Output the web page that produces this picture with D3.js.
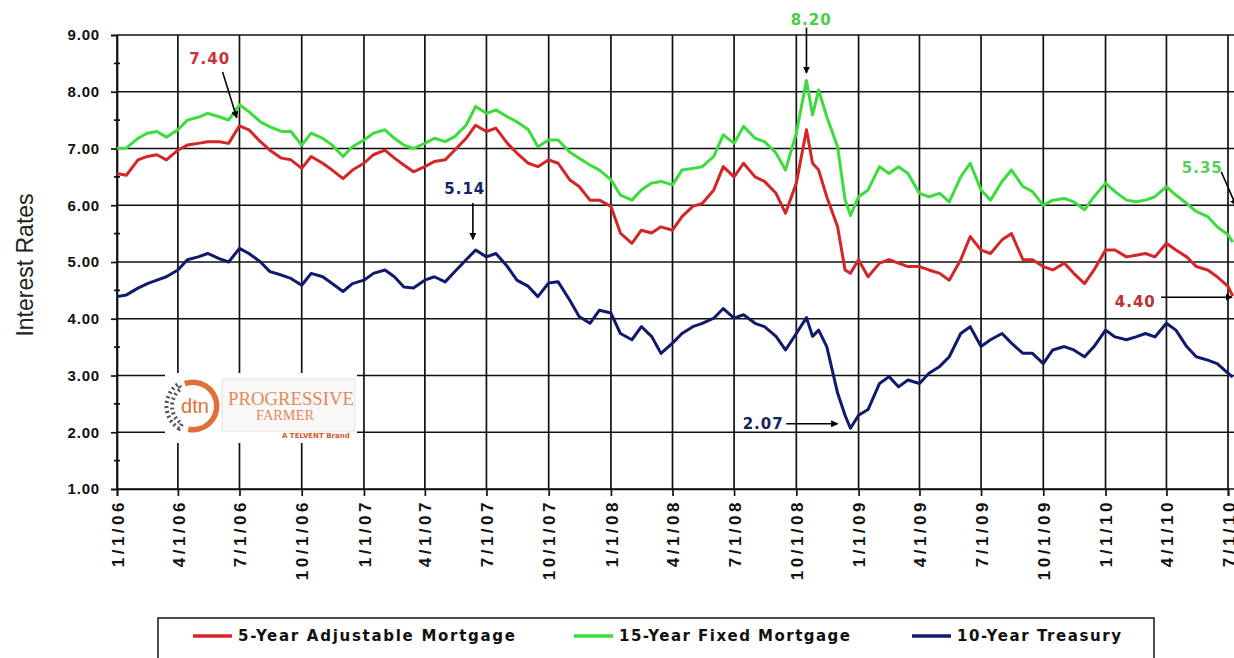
<!DOCTYPE html>
<html>
<head>
<meta charset="utf-8">
<script src="https://cdn.jsdelivr.net/npm/d3@7"></script>
<style>
body { margin: 0; background: #fff; }
svg { display: block; }
</style>
</head>
<body>
<div id="chart-area"></div>
<script>
// semi-monthly readings, extra points round the autumn 2008 spikes
var dates = [
  "2006-01-01","2006-01-15","2006-02-01","2006-02-15","2006-03-01","2006-03-15","2006-04-01","2006-04-15",
  "2006-05-01","2006-05-15","2006-06-01","2006-06-15","2006-07-01","2006-07-15","2006-08-01","2006-08-15",
  "2006-09-01","2006-09-15","2006-10-01","2006-10-15","2006-11-01","2006-11-15","2006-12-01","2006-12-15",
  "2007-01-01","2007-01-15","2007-02-01","2007-02-15","2007-03-01","2007-03-15","2007-04-01","2007-04-15",
  "2007-05-01","2007-05-15","2007-06-01","2007-06-15","2007-07-01","2007-07-15","2007-08-01","2007-08-15",
  "2007-09-01","2007-09-15","2007-10-01","2007-10-15","2007-11-01","2007-11-15","2007-12-01","2007-12-15",
  "2008-01-01","2008-01-15","2008-02-01","2008-02-15","2008-03-01","2008-03-15","2008-04-01","2008-04-15",
  "2008-05-01","2008-05-15","2008-06-01","2008-06-15","2008-07-01","2008-07-15","2008-08-01","2008-08-15",
  "2008-09-01","2008-09-15","2008-10-01","2008-10-16","2008-10-25","2008-11-03","2008-11-15","2008-12-01",
  "2008-12-12","2008-12-20","2009-01-01","2009-01-15","2009-02-01","2009-02-15","2009-03-01","2009-03-15",
  "2009-04-01","2009-04-15","2009-05-01","2009-05-15","2009-06-01","2009-06-15","2009-07-01","2009-07-15",
  "2009-08-01","2009-08-15","2009-09-01","2009-09-15","2009-10-01","2009-10-15","2009-11-01","2009-11-15",
  "2009-12-01","2009-12-15","2010-01-01","2010-01-15","2010-02-01","2010-02-15","2010-03-01","2010-03-15",
  "2010-04-01","2010-04-15","2010-05-01","2010-05-15","2010-06-01","2010-06-15","2010-07-01","2010-07-08"
];

var arm5 = [
  6.56,6.53,6.80,6.86,6.89,6.80,6.97,7.06, 7.09,7.12,7.12,7.09,7.40,7.33,7.12,6.97,
  6.83,6.80,6.65,6.86,6.74,6.62,6.47,6.62, 6.74,6.89,6.97,6.83,6.71,6.59,6.68,6.77,
  6.80,6.97,7.18,7.41,7.30,7.36,7.09,6.92, 6.74,6.68,6.80,6.74,6.45,6.33,6.09,6.09,
  5.98,5.51,5.33,5.56,5.51,5.62,5.56,5.80, 5.98,6.03,6.27,6.68,6.50,6.74,6.50,6.42,
  6.21,5.86,6.39,7.33,6.74,6.62,6.15,5.62, 4.86,4.80,5.04,4.74,4.98,5.04,4.98,4.92,
  4.92,4.86,4.80,4.68,5.04,5.45,5.21,5.15, 5.39,5.50,5.04,5.04,4.92,4.86,4.98,4.80,
  4.62,4.86,5.21,5.21,5.09,5.12,5.15,5.09, 5.33,5.21,5.09,4.92,4.86,4.74,4.57,4.40
];

var fixed15 = [
  7.00,7.01,7.18,7.27,7.30,7.20,7.33,7.50, 7.55,7.62,7.56,7.50,7.77,7.65,7.47,7.38,
  7.30,7.30,7.06,7.27,7.18,7.06,6.86,7.03, 7.15,7.27,7.33,7.18,7.06,7.00,7.09,7.18,
  7.12,7.21,7.41,7.74,7.62,7.68,7.56,7.47, 7.33,7.03,7.15,7.15,6.94,6.83,6.71,6.62,
  6.45,6.18,6.09,6.27,6.39,6.42,6.36,6.62, 6.65,6.68,6.86,7.24,7.09,7.39,7.18,7.12,
  6.92,6.62,7.27,8.20,7.59,8.03,7.56,7.03, 6.10,5.82,6.15,6.27,6.68,6.56,6.68,6.56,
  6.21,6.15,6.21,6.06,6.50,6.74,6.27,6.09, 6.42,6.62,6.33,6.24,6.00,6.09,6.12,6.06,
  5.92,6.15,6.39,6.24,6.09,6.06,6.09,6.15, 6.33,6.18,6.03,5.89,5.80,5.62,5.48,5.35
];

var treasury10 = [
  4.39,4.42,4.54,4.62,4.68,4.74,4.86,5.04, 5.09,5.15,5.06,5.00,5.24,5.15,5.00,4.83,
  4.77,4.71,4.59,4.80,4.74,4.62,4.48,4.62, 4.68,4.80,4.86,4.74,4.56,4.54,4.68,4.74,
  4.65,4.83,5.04,5.21,5.09,5.15,4.92,4.68, 4.57,4.39,4.63,4.65,4.33,4.04,3.92,4.15,
  4.10,3.74,3.63,3.86,3.69,3.39,3.57,3.74, 3.86,3.92,4.01,4.18,4.01,4.07,3.92,3.86,
  3.69,3.45,3.74,4.02,3.69,3.80,3.51,2.69, 2.30,2.07,2.30,2.40,2.86,2.98,2.80,2.92,
  2.86,3.04,3.16,3.33,3.74,3.86,3.51,3.63, 3.74,3.57,3.39,3.39,3.21,3.45,3.51,3.45,
  3.33,3.51,3.80,3.68,3.63,3.68,3.74,3.68, 3.92,3.80,3.51,3.33,3.27,3.21,3.04,2.97
];

var seriesNames = ["5-Year Adjustable Mortgage", "15-Year Fixed Mortgage", "10-Year Treasury"];
var yTickValues = [1, 2, 3, 4, 5, 6, 7, 8, 9];
var xTickLabels = ["1/1/06","4/1/06","7/1/06","10/1/06","1/1/07","4/1/07","7/1/07","10/1/07",
  "1/1/08","4/1/08","7/1/08","10/1/08","1/1/09","4/1/09","7/1/09","10/1/09","1/1/10","4/1/10","7/1/10"];

var colors = { arm: "#d42626", fixed: "#3ddc3d", treas: "#0f1a6e" };

var width = 1234, height = 658;
var plotLeft = 117, plotRight = 1240, plotTop = 35, plotBottom = 489;

var parse = d3.timeParse("%Y-%m-%d");
var parseTick = d3.timeParse("%m/%d/%y");

var x = d3.scaleTime()
    .domain([parse("2006-01-01"), parse("2010-07-01")])
    .range([plotLeft, 1228]);
var y = d3.scaleLinear()
    .domain([1, 9])
    .range([plotBottom, plotTop]);

var svg = d3.select("#chart-area")
    .append("svg")
    .attr("width", width)
    .attr("height", height)
    .style("font-family", "'DejaVu Sans', sans-serif");

svg.append("defs").append("marker")
    .attr("id", "head")
    .attr("viewBox", "0 0 10 10")
    .attr("refX", 9).attr("refY", 5)
    .attr("markerWidth", 4.5).attr("markerHeight", 4.5)
    .attr("markerUnits", "strokeWidth")
    .attr("orient", "auto")
    .append("path").attr("d", "M0,0 L10,5 L0,10 Z").attr("fill", "#000");

var tickDates = xTickLabels.map(function(t){ return parseTick(t); });

// grid
var grid = svg.append("g").attr("stroke", "#111").attr("stroke-width", 1.7);
grid.selectAll("line.h").data(yTickValues).enter().append("line")
    .attr("class", "h")
    .attr("x1", plotLeft).attr("x2", plotRight)
    .attr("y1", function(d){ return y(d); }).attr("y2", function(d){ return y(d); });
grid.selectAll("line.v").data(tickDates).enter().append("line")
    .attr("class", "v")
    .attr("x1", function(d){ return x(d); }).attr("x2", function(d){ return x(d); })
    .attr("y1", plotTop).attr("y2", plotBottom);

// axes
var yAxisCall = d3.axisLeft(y).tickValues(yTickValues).tickSize(6).tickPadding(11)
    .tickFormat(d3.format(".2f"));
var yAxisGroup = svg.append("g").attr("transform", "translate(" + plotLeft + ",0)").call(yAxisCall);
yAxisGroup.select(".domain").attr("stroke", "#111").attr("stroke-width", 1.7);
yAxisGroup.selectAll(".tick line").attr("stroke", "#111").attr("stroke-width", 1.7);
yAxisGroup.selectAll(".tick text")
    .attr("font-size", "15px").attr("font-weight", "bold").attr("fill", "#111")
    .attr("letter-spacing", "0.8px");

// minor ticks at the half points
svg.append("g").selectAll("line").data(d3.range(1.5, 9, 1)).enter().append("line")
    .attr("x1", plotLeft - 3).attr("x2", plotLeft + 3)
    .attr("y1", function(d){ return y(d); }).attr("y2", function(d){ return y(d); })
    .attr("stroke", "#111").attr("stroke-width", 1.7);

var xAxisCall = d3.axisBottom(x).tickValues(tickDates).tickSize(7)
    .tickFormat(function(d, i){ return xTickLabels[i]; });
var xAxisGroup = svg.append("g").attr("transform", "translate(0," + plotBottom + ")").call(xAxisCall);
xAxisGroup.select(".domain").attr("stroke", "#111").attr("stroke-width", 1.7);
xAxisGroup.selectAll(".tick line").attr("stroke", "#111").attr("stroke-width", 1.7);
xAxisGroup.selectAll(".tick text")
    .attr("transform", "rotate(-90)")
    .attr("x", -10).attr("y", 0).attr("dy", "0.36em")
    .attr("text-anchor", "end")
    .attr("font-size", "17px").attr("font-weight", "bold").attr("fill", "#111")
    .attr("letter-spacing", "3.5px");

// y axis title
svg.append("text")
    .attr("transform", "translate(33," + 265 + ") rotate(-90)")
    .attr("text-anchor", "middle")
    .attr("font-family", "'Liberation Sans', Arial, sans-serif")
    .attr("font-size", "23px")
    .attr("fill", "#222")
    .text("Interest Rates");

// logo box
var logo = svg.append("g");
logo.append("rect").attr("x", 165).attr("y", 373).attr("width", 192).attr("height", 70).attr("fill", "#fff");
logo.append("rect").attr("x", 222).attr("y", 379).attr("width", 133).attr("height", 52)
    .attr("fill", "#faf8f7").attr("stroke", "#e4e2e2").attr("stroke-width", 1);
var arc = d3.arc().innerRadius(21).outerRadius(26.5);
logo.append("path").attr("transform", "translate(193,406)")
    .attr("d", arc({ startAngle: -0.35, endAngle: Math.PI + 0.2 }))
    .attr("fill", "#e07038");
logo.append("path").attr("transform", "translate(193,406)")
    .attr("d", arc({ startAngle: Math.PI + 0.55, endAngle: 2 * Math.PI - 0.6 }))
    .attr("fill", "none").attr("stroke", "#555").attr("stroke-width", 4)
    .attr("stroke-dasharray", "2 3");
logo.append("text").attr("x", 195).attr("y", 413).attr("text-anchor", "middle")
    .attr("font-size", "20px").attr("fill", "#e07038").attr("font-family", "'Liberation Sans', Arial, sans-serif")
    .text("dtn");
logo.append("text").attr("x", 228).attr("y", 405)
    .attr("font-family", "'Liberation Serif', serif").attr("font-size", "19px").attr("fill", "#e08a60")
    .attr("textLength", 126).attr("lengthAdjust", "spacingAndGlyphs")
    .text("PROGRESSIVE");
logo.append("text").attr("x", 256).attr("y", 420)
    .attr("font-family", "'Liberation Serif', serif").attr("font-size", "15px").attr("fill", "#e08a60")
    .attr("textLength", 58).attr("lengthAdjust", "spacingAndGlyphs")
    .text("FARMER");
logo.append("text").attr("x", 282).attr("y", 438)
    .attr("font-size", "7px").attr("font-weight", "bold").attr("fill", "#d8582c")
    .text("A TELVENT Brand");

// lines
var rows = dates.map(function(d, i){
    return { date: parse(d), arm: arm5[i], fixed: fixed15[i], treas: treasury10[i] };
});
["fixed", "arm", "treas"].forEach(function(key){
    var line = d3.line()
        .x(function(d){ return x(d.date); })
        .y(function(d){ return y(d[key]); });
    svg.append("path")
        .datum(rows)
        .attr("d", line)
        .attr("fill", "none")
        .attr("stroke", colors[key])
        .attr("stroke-width", 3)
        .attr("stroke-linejoin", "round");
});

// callouts, anchored in data units
var notes = [
  { text: "7.40", color: "#c8323a", at: ["2006-05-18", 8.59], from: ["2006-06-06", 8.35], to: ["2006-06-27", 7.54] },
  { text: "5.14", color: "#16246a", at: ["2007-05-30", 6.30], from: ["2007-06-11", 6.04], to: ["2007-06-11", 5.40] },
  { text: "8.20", color: "#45cf45", at: ["2008-10-23", 9.28], from: ["2008-10-16", 9.13], to: ["2008-10-16", 8.33] },
  { text: "5.35", color: "#55d055", at: ["2010-05-24", 6.67], from: ["2010-06-21", 6.59], to: ["2010-07-13", 5.99] },
  { text: "4.40", color: "#bf3030", at: ["2010-02-14", 4.31], from: ["2010-03-24", 4.38], to: ["2010-07-07", 4.38] },
  { text: "2.07", color: "#16225e", at: ["2008-08-13", 2.15], from: ["2008-09-16", 2.15], to: ["2008-12-01", 2.15] }
];
notes.forEach(function(n){
    svg.append("line")
        .attr("x1", x(parse(n.from[0]))).attr("y1", y(n.from[1]))
        .attr("x2", x(parse(n.to[0]))).attr("y2", y(n.to[1]))
        .attr("stroke", "#000").attr("stroke-width", 1.6)
        .attr("marker-end", "url(#head)");
    svg.append("text")
        .attr("x", x(parse(n.at[0]))).attr("y", y(n.at[1]))
        .attr("dy", "0.36em").attr("text-anchor", "middle")
        .attr("font-size", "15px").attr("font-weight", "bold")
        .attr("letter-spacing", "1px")
        .attr("fill", n.color)
        .text(n.text);
});

// legend
var legend = svg.append("g");
legend.append("rect").attr("x", 158).attr("y", 618).attr("width", 996).attr("height", 60)
    .attr("fill", "#fff").attr("stroke", "#222").attr("stroke-width", 1.6);
var legendItems = [
  { name: seriesNames[0], color: colors.arm, x: 193, w: 277 },
  { name: seriesNames[1], color: colors.fixed, x: 574, w: 231 },
  { name: seriesNames[2], color: colors.treas, x: 912, w: 164 }
];
legendItems.forEach(function(it){
    legend.append("line").attr("x1", it.x).attr("x2", it.x + 39)
        .attr("y1", 636).attr("y2", 636)
        .attr("stroke", it.color).attr("stroke-width", 3.5);
    legend.append("text").attr("x", it.x + 45).attr("y", 636).attr("dy", "0.36em")
        .attr("font-size", "15px").attr("font-weight", "bold").attr("fill", "#111")
        .attr("textLength", it.w).attr("lengthAdjust", "spacing")
        .text(it.name);
});
</script>
</body>
</html>
